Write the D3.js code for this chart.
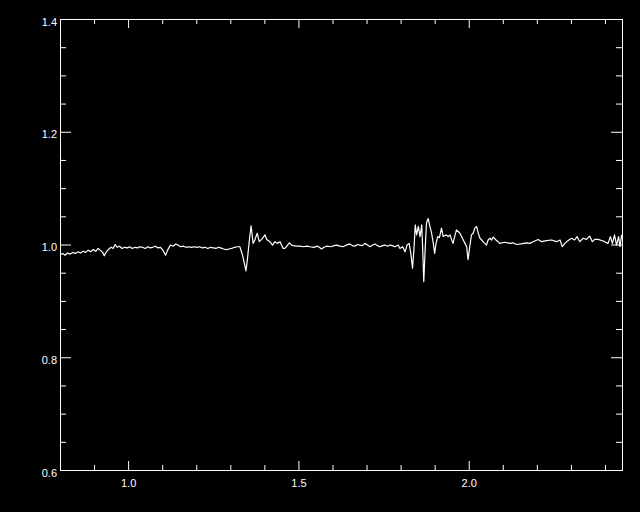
<!DOCTYPE html>
<html>
<head>
<meta charset="utf-8">
<script src="https://cdn.jsdelivr.net/npm/d3@7"></script>
<style>
body { margin: 0; background: #000; }
</style>
</head>
<body>
<script>
// spectrum
var wavelength = [
  0.800, 0.808, 0.815, 0.822, 0.830, 0.838, 0.845, 0.853, 0.860, 0.868,
  0.875, 0.883, 0.890, 0.898, 0.905, 0.912, 0.918, 0.925, 0.930, 0.936,
  0.942, 0.950, 0.956, 0.962, 0.968, 0.975, 0.982, 0.990, 0.998, 1.005,
  1.012, 1.020, 1.028, 1.035, 1.042, 1.050, 1.058, 1.065, 1.072, 1.080,
  1.088, 1.095, 1.102, 1.110, 1.116, 1.124, 1.132, 1.140, 1.146, 1.154,
  1.162, 1.170, 1.178, 1.186, 1.194, 1.202, 1.210, 1.218, 1.226, 1.234,
  1.242, 1.250, 1.258, 1.265, 1.272, 1.280, 1.288, 1.296, 1.304, 1.312,
  1.320, 1.328, 1.336, 1.340, 1.346, 1.351, 1.356, 1.361, 1.367, 1.372,
  1.379, 1.385, 1.392, 1.402, 1.407, 1.416, 1.424, 1.431, 1.438, 1.446,
  1.455, 1.460, 1.466, 1.473, 1.480, 1.485, 1.495, 1.504, 1.515, 1.525,
  1.534, 1.545, 1.557, 1.568, 1.575, 1.583, 1.595, 1.605, 1.612, 1.622,
  1.631, 1.641, 1.651, 1.658, 1.666, 1.673, 1.680, 1.688, 1.695, 1.703,
  1.710, 1.718, 1.725, 1.732, 1.739, 1.747, 1.754, 1.762, 1.769, 1.776,
  1.783, 1.793, 1.798, 1.806, 1.813, 1.819, 1.825, 1.830, 1.835, 1.839,
  1.843, 1.847, 1.852, 1.857, 1.862, 1.865, 1.868, 1.872, 1.876, 1.881,
  1.886, 1.891, 1.896, 1.900, 1.904, 1.909, 1.914, 1.920, 1.925, 1.933,
  1.940, 1.945, 1.950, 1.954, 1.959, 1.964, 1.969, 1.974, 1.979, 1.984,
  1.989, 1.994, 1.998, 2.003, 2.008, 2.013, 2.018, 2.023, 2.028, 2.033,
  2.038, 2.042, 2.047, 2.052, 2.057, 2.062, 2.067, 2.072, 2.080, 2.086,
  2.091, 2.106, 2.121, 2.130, 2.140, 2.153, 2.170, 2.179, 2.189, 2.204,
  2.214, 2.228, 2.243, 2.258, 2.268, 2.275, 2.282, 2.292, 2.302, 2.311,
  2.318, 2.326, 2.336, 2.346, 2.355, 2.363, 2.370, 2.380, 2.390, 2.399,
  2.409, 2.416, 2.422, 2.428, 2.434, 2.440, 2.444, 2.449
];
var flux = [
  0.982, 0.984, 0.981, 0.985, 0.983, 0.986, 0.984, 0.987, 0.985, 0.988,
  0.986, 0.990, 0.987, 0.991, 0.988, 0.993, 0.990, 0.986, 0.980, 0.987,
  0.991, 0.995, 0.993, 1.000, 0.995, 0.997, 0.993, 0.995, 0.994, 0.996,
  0.993, 0.995, 0.994, 0.996, 0.995, 0.993, 0.996, 0.994, 0.995, 0.997,
  0.994, 0.995, 0.990, 0.981, 0.990, 0.999, 0.997, 1.001, 0.999, 0.996,
  0.997, 0.995, 0.996, 0.995, 0.996, 0.995, 0.996, 0.994, 0.995, 0.993,
  0.995, 0.994, 0.993, 0.995, 0.994, 0.992, 0.991, 0.992, 0.993, 0.995,
  0.996, 0.996, 0.981, 0.970, 0.953, 0.978, 1.008, 1.033, 1.002, 1.008,
  1.020, 1.005, 1.009, 1.017, 1.009, 1.005, 0.999, 1.005, 1.002, 1.005,
  0.993, 0.993, 0.997, 1.003, 0.999, 0.998, 0.997, 0.997, 0.996, 0.997,
  0.996, 0.995, 0.997, 0.992, 0.995, 0.997, 0.996, 0.998, 0.999, 0.997,
  0.996, 0.999, 1.001, 0.998, 0.997, 1.000, 0.999, 0.998, 1.002, 0.999,
  0.996, 0.999, 1.001, 0.998, 0.996, 0.998, 0.999, 0.997, 0.999, 0.998,
  0.996, 0.999, 0.993, 0.996, 0.987, 0.999, 1.002, 0.984, 0.958, 0.990,
  1.035, 1.017, 1.032, 1.014, 1.035, 0.990, 0.934, 0.990, 1.038, 1.046,
  1.032, 1.020, 1.002, 0.984, 1.002, 1.014, 1.012, 1.029, 1.014, 1.017,
  1.014, 1.017, 1.008, 1.002, 1.015, 1.026, 1.023, 1.020, 1.014, 1.008,
  1.002, 0.996, 0.973, 0.996, 1.017, 1.020, 1.029, 1.032, 1.020, 1.011,
  1.008, 1.005, 1.002, 0.999, 1.008, 1.011, 1.008, 1.013, 1.008, 1.005,
  1.002, 1.004, 1.002, 1.003, 1.000, 1.001, 1.003, 1.002, 1.005, 1.009,
  1.005, 1.007, 1.008, 1.005, 1.008, 0.996, 1.002, 1.007, 1.011, 1.008,
  1.014, 1.005, 1.011, 1.009, 1.015, 1.005, 1.009, 1.009, 1.007, 1.005,
  1.002, 1.014, 1.002, 1.017, 0.999, 1.014, 0.996, 1.017
];

var xMajor = [1.0, 1.5, 2.0];
var xLabels = ["1.0", "1.5", "2.0"];
var yMajor = [0.6, 0.8, 1.0, 1.2, 1.4];
var yLabels = ["0.6", "0.8", "1.0", "1.2", "1.4"];

var w = 640;
var h = 512;
var padL = 60, padR = 622, padT = 19, padB = 470;

var svg = d3.select("body")
	.append("svg")
	.attr("width", w)
	.attr("height", h)
	.style("background", "#000");

var x = d3.scaleLinear().domain([0.8, 2.45]).range([padL, padR]);
var y = d3.scaleLinear().domain([0.6, 1.4]).range([padB, padT]);

var xMinor = d3.range(0.9, 2.45, 0.1).filter(function(v) {
	return xMajor.every(function(m) { return Math.abs(m - v) > 1e-6; });
});
var yMinor = d3.range(0.65, 1.4, 0.05).filter(function(v) {
	return yMajor.every(function(m) { return Math.abs(m - v) > 1e-6; });
});

function styleAxis(g) {
	g.select(".domain").remove();
	g.selectAll("line").attr("stroke", "#fff");
	g.selectAll("text")
		.attr("fill", "#fff")
		.attr("font-family", "Liberation Sans, Arial, sans-serif")
		.attr("font-size", "11px");
}

// bottom, labelled
svg.append("g")
	.attr("transform", "translate(0," + padB + ")")
	.call(d3.axisBottom(x).tickValues(xMajor).tickSize(-9).tickPadding(9)
		.tickFormat(function(d, i) { return xLabels[i]; }))
	.call(styleAxis);
svg.append("g")
	.attr("transform", "translate(0," + padB + ")")
	.call(d3.axisBottom(x).tickValues(xMinor).tickSize(-5).tickFormat(""))
	.call(styleAxis);
// top, mirrored
svg.append("g")
	.attr("transform", "translate(0," + padT + ")")
	.call(d3.axisTop(x).tickValues(xMajor).tickSize(-9).tickFormat(""))
	.call(styleAxis);
svg.append("g")
	.attr("transform", "translate(0," + padT + ")")
	.call(d3.axisTop(x).tickValues(xMinor).tickSize(-5).tickFormat(""))
	.call(styleAxis);

// left, labelled
svg.append("g")
	.attr("transform", "translate(" + padL + ",0)")
	.call(d3.axisLeft(y).tickValues(yMajor).tickSize(-11).tickPadding(3)
		.tickFormat(function(d, i) { return yLabels[i]; }))
	.call(styleAxis)
	.selectAll("text").attr("dy", "0.55em");
svg.append("g")
	.attr("transform", "translate(" + padL + ",0)")
	.call(d3.axisLeft(y).tickValues(yMinor).tickSize(-6).tickFormat(""))
	.call(styleAxis);
// right, mirrored
svg.append("g")
	.attr("transform", "translate(" + padR + ",0)")
	.call(d3.axisRight(y).tickValues(yMajor).tickSize(-11).tickFormat(""))
	.call(styleAxis);
svg.append("g")
	.attr("transform", "translate(" + padR + ",0)")
	.call(d3.axisRight(y).tickValues(yMinor).tickSize(-6).tickFormat(""))
	.call(styleAxis);

// frame
svg.append("rect")
	.attr("x", padL + 0.5)
	.attr("y", padT + 0.5)
	.attr("width", padR - padL)
	.attr("height", padB - padT)
	.attr("fill", "none")
	.attr("stroke", "#fff")
	.attr("stroke-width", 1);

// the spectrum
var line = d3.line()
	.x(function(d, i) { return x(wavelength[i]); })
	.y(function(d) { return y(d); });

svg.append("path")
	.datum(flux)
	.attr("d", line)
	.attr("fill", "none")
	.attr("stroke", "#fff")
	.attr("stroke-width", 1.2)
	.attr("stroke-linejoin", "round");
</script>
</body>
</html>
